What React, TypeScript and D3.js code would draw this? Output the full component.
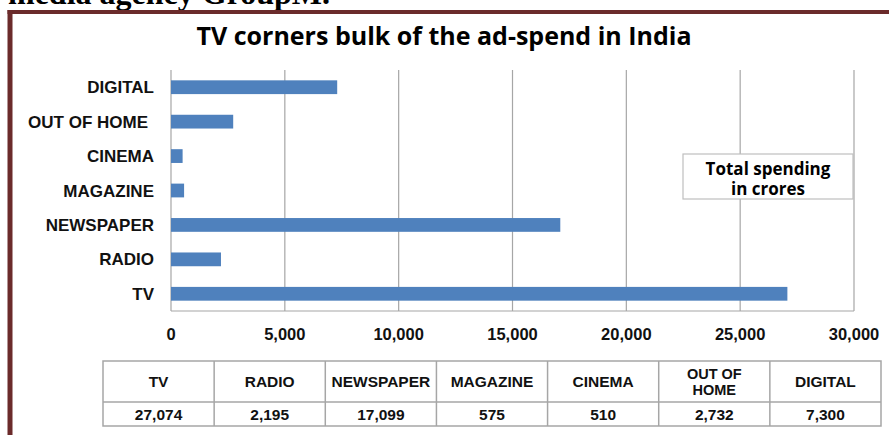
import * as d3 from 'd3'

// categories, bottom-up order as in the table
const categories = ['TV', 'RADIO', 'NEWSPAPER', 'MAGAZINE', 'CINEMA', 'OUT OF HOME', 'DIGITAL']
const tableHeaders = [['TV'], ['RADIO'], ['NEWSPAPER'], ['MAGAZINE'], ['CINEMA'], ['OUT OF', 'HOME'], ['DIGITAL']]
const spend = [27074, 2195, 17099, 575, 510, 2732, 7300]
const xTicks = [0, 5000, 10000, 15000, 20000, 25000, 30000]

const W = 889
const H = 435
const plot = { left: 171, right: 854, top: 70, bottom: 311 }
const table = { left: 103, right: 881, top: 361, mid: 402, bottom: 426 }

const barColor = '#4f81bd'
const gridColor = '#a6a6a6'
const frameColor = '#6b2b2b'
const sans = '"Liberation Sans", Arial, sans-serif'
const calibri = '"Open Sans", Lato, sans-serif'

export default function App() {
  const x = d3.scaleLinear().domain([0, 30000]).range([plot.left, plot.right])
  // top of chart = last category
  const y = d3.scaleBand<string>()
    .domain([...categories].reverse())
    .range([plot.top, plot.bottom])
    .paddingInner(0.6)
    .paddingOuter(0.3)
  const fmt = d3.format(',')
  const col = d3.scaleBand<number>()
    .domain(d3.range(categories.length))
    .range([table.left, table.right])

  return (
    <svg width={W} height={H} style={{ position: 'fixed', left: 0, top: 0, background: '#fff' }}>
      {/* clipped caption line from the page above */}
      <text x={8} y={4} fontFamily='"Liberation Serif", serif' fontWeight="bold" fontSize={32} fill="#000">
        media agency GroupM.
      </text>

      {/* frame */}
      <rect x={7.5} y={10} width={W} height={4} fill={frameColor} />
      <rect x={7.5} y={10} width={5} height={H} fill={frameColor} />

      <text x={444} y={45} textAnchor="middle" fontFamily={calibri} fontWeight="bold" fontSize={25} fill="#000">
        TV corners bulk of the ad-spend in India
      </text>

      {/* gridlines */}
      {xTicks.map(t => (
        <line key={t} x1={x(t)} x2={x(t)} y1={plot.top} y2={plot.bottom} stroke={gridColor} strokeWidth={1.2} />
      ))}
      <line x1={plot.left} x2={plot.right} y1={plot.bottom} y2={plot.bottom} stroke={gridColor} strokeWidth={1.2} />

      {/* bars */}
      {categories.map((c, i) => (
        <rect key={c} x={x(0)} y={y(c)} width={x(spend[i]) - x(0)} height={y.bandwidth()} fill={barColor} />
      ))}

      {/* category labels */}
      {categories.map(c => (
        <text key={c} x={c === 'OUT OF HOME' ? 148 : 154} y={(y(c) ?? 0) + y.bandwidth() / 2} dy="0.36em"
          textAnchor="end" fontFamily={sans} fontWeight="bold" fontSize={17} fill="#111">
          {c}
        </text>
      ))}

      {/* x tick labels */}
      {xTicks.map(t => (
        <text key={t} x={x(t)} y={340} textAnchor="middle" fontFamily={sans} fontWeight="bold" fontSize={16.5} fill="#111">
          {fmt(t)}
        </text>
      ))}

      {/* legend box */}
      <rect x={683} y={154} width={170} height={45} fill="#fff" stroke="#bfbfbf" strokeWidth={1.2} />
      <text x={768} y={175} textAnchor="middle" fontFamily={calibri} fontWeight="bold" fontSize={17} fill="#000">
        Total spending
      </text>
      <text x={768} y={195} textAnchor="middle" fontFamily={calibri} fontWeight="bold" fontSize={17} fill="#000">
        in crores
      </text>

      {/* data table */}
      <g stroke="#a6a6a6" strokeWidth={1.5} fill="none">
        <rect x={table.left} y={table.top} width={table.right - table.left} height={table.bottom - table.top} />
        <line x1={table.left} x2={table.right} y1={table.mid} y2={table.mid} />
        {d3.range(1, categories.length).map(i => (
          <line key={i} x1={col(i)} x2={col(i)} y1={table.top} y2={table.bottom} />
        ))}
      </g>
      {tableHeaders.map((lines, i) => {
        const cx = (col(i) ?? 0) + col.bandwidth() / 2
        const cy = (table.top + table.mid) / 2
        const multi = lines.length > 1
        return (
          <text key={i} x={cx} textAnchor="middle" fontFamily={sans} fontWeight="bold" fontSize={multi ? 14.5 : 15.5} fill="#111">
            {lines.map((l, j) => (
              <tspan key={j} x={cx} y={cy + (j - (lines.length - 1) / 2) * 16} dy="0.36em">{l}</tspan>
            ))}
          </text>
        )
      })}
      {spend.map((v, i) => (
        <text key={i} x={(col(i) ?? 0) + col.bandwidth() / 2} y={(table.mid + table.bottom) / 2} dy="0.36em"
          textAnchor="middle" fontFamily={sans} fontWeight="bold" fontSize={15.5} fill="#111">
          {fmt(v)}
        </text>
      ))}
    </svg>
  )
}
